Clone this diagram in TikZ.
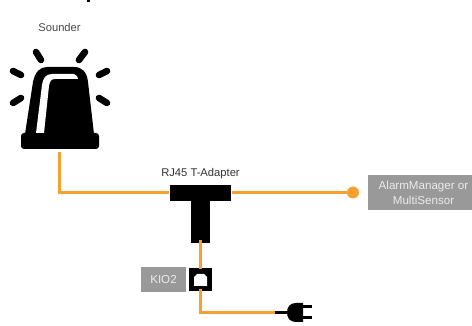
\documentclass[tikz,border=0pt]{standalone}
\usepackage{xcolor}
\usepackage{fontspec}
\setmainfont{Liberation Sans}
\definecolor{wire}{HTML}{F7A030}
\definecolor{tagbox}{HTML}{999999}
\tikzset{
  wireline/.style={draw=wire, line width=3.2pt},
  tag/.style={fill=tagbox, text=white!92!black, inner sep=0pt, align=center, font=\fontsize{11.6}{15}\selectfont},
  caption/.style={text=black!72, inner sep=0pt, font=\fontsize{11.2}{13}\selectfont},
  block/.style={fill=black, inner sep=0pt},
  ray/.style={line width=6.6pt, line cap=round}
}
\begin{document}
\begin{tikzpicture}[x=1pt, y=-1pt]
\useasboundingbox (0, 0) rectangle (472, 326);
\fill (87, 0) rectangle (90, 2);
% sounder
\node[caption] (soundertext) at (59.5, 27) {Sounder};
\fill[rounded corners=3pt] (21, 133) rectangle (99, 149);
\fill (25, 134) -- (33, 82) .. controls (35, 72) and (40, 67) .. (47, 67) -- (74, 67)
  .. controls (82, 67) and (87, 72) .. (88, 82) -- (94, 134) -- cycle;
\fill[white] (36, 133) -- (42, 85) .. controls (43, 78) and (46, 74) .. (52, 74) -- (74, 74)
  .. controls (77, 75) and (78, 77) .. (78, 79) -- (55, 79) .. controls (51, 79) and (50, 81) .. (49, 86) -- (44, 133) -- cycle;
\draw[ray] (36, 52) -- (41, 60);
\draw[ray] (85, 52) -- (79, 60);
\draw[ray] (13, 71) -- (21, 75);
\draw[ray] (13, 103) -- (21, 98);
\draw[ray] (107, 71) -- (99, 75);
\draw[ray] (107, 103) -- (99, 98);
\coordinate (sounder) at (59.5, 152);
\coordinate (bend1) at (59.5, 192.5);
% t-adapter
\node[block, minimum width=61pt, minimum height=16pt] (tbar) at (200.5, 193) {};
\node[block, minimum width=19pt, minimum height=43pt] (tstem) at (200.5, 221.5) {};
\node[caption, text=black!80] (ttext) at (200.5, 174) {RJ45 T-Adapter};
% alarm manager
\node[fill=wire, circle, minimum size=12pt, inner sep=0pt] (dot) at (353, 192.5) {};
\node[tag, minimum width=104pt, minimum height=35pt] (manager) at (420, 192.5) {};
\node[tag, fill=none] (managertext) at (423.5, 192.5) {AlarmManager or\\MultiSensor};
% socket
\node[tag, minimum width=45pt, minimum height=25pt] (kio) at (163.5, 279.5) {KIO2};
\node[block, minimum width=23pt, minimum height=23pt] (socket) at (200.5, 279.5) {};
\fill[white] (194, 286) -- (194, 277) -- (197, 274) -- (204, 274) -- (207, 277) -- (207, 286) -- cycle;
% plug
\coordinate (plug) at (275, 312.5);
\draw[line width=3.2pt] (plug) -- (288, 312.5);
\fill (296, 303) -- (303, 303) -- (303, 322) -- (296, 322) .. controls (290, 322) and (287, 318) .. (287, 312.5)
  .. controls (287, 307) and (290, 303) .. (296, 303) -- cycle;
\draw[line width=3pt] (303, 307) -- (312, 307);
\draw[line width=3pt] (303, 318) -- (312, 318);
\coordinate (bend2) at (200.5, 312.5);
% wires
\draw[wireline] (sounder) -- (bend1) -- ([xshift=-1pt]tbar.west |- bend1);
\draw[wireline] ([xshift=1pt]tbar.east |- dot) -- (dot);
\draw[wireline] ([yshift=3pt]tstem.south) -- ([yshift=-1pt]socket.north);
\draw[wireline] ([yshift=2pt]socket.south) -- (bend2) -- (plug);
\end{tikzpicture}
\end{document}
